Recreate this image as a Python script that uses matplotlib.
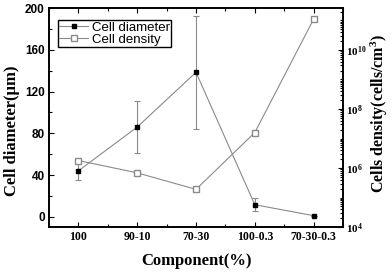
import numpy as np
import matplotlib.pyplot as plt
from matplotlib.ticker import MultipleLocator, LogLocator, NullFormatter

plt.rcParams["font.family"] = ["Liberation Serif", "DejaVu Serif"]
plt.rcParams["font.weight"] = "bold"
plt.rcParams["mathtext.fontset"] = "custom"
plt.rcParams["mathtext.rm"] = "Liberation Serif:bold"
plt.rcParams["mathtext.default"] = "rm"

labels = ['100', '90-10', '70-30', '100-0.3', '70-30-0.3']
diameter = [44, 86, 138.5, 11.5, 1]
diameter_err = [9, 25, 54, 6, 0]
density = [1.8e6, 6.9e5, 1.9e5, 1.6e7, 1.1e11]

x = np.arange(len(labels))
line_col = '#8a8a8a'

fig, ax = plt.subplots(figsize=(3.92, 2.73), dpi=100)
fig.subplots_adjust(left=0.125, right=0.875, top=0.97, bottom=0.168)
ax2 = ax.twinx()

l1, = ax.plot(x, diameter, color=line_col, lw=0.8, marker='s', ms=3.5,
              mfc='black', mec='black', label='Cell diameter', zorder=3)
ax.errorbar(x, diameter, yerr=diameter_err, fmt='none', ecolor=line_col,
            elinewidth=0.8, capsize=2.5, capthick=0.8)
l2, = ax2.plot(x, density, color=line_col, lw=0.8, marker='s', ms=3.8,
               mfc='white', mec=line_col, label='Cell density')

ax.set_xlim(-0.5, 4.5)
ax.set_ylim(-10, 200)
ax.set_xticks(x)
ax.set_xticklabels(labels)
ax.xaxis.set_minor_locator(MultipleLocator(0.5))
ax.yaxis.set_major_locator(MultipleLocator(40))
ax.yaxis.set_minor_locator(MultipleLocator(20))
ax.tick_params(which='both', direction='in', top=True, labelsize=8.5, width=0.8, pad=3)
ax.tick_params(which='major', length=3.5)
ax.tick_params(which='minor', length=2)
for t in ax.get_yticklabels():
    t.set_family('Liberation Sans')

ax2.set_yscale('log')
ax2.set_ylim(1e4, 2.6e11)
ax2.yaxis.set_major_locator(LogLocator(base=100))
ax2.yaxis.set_minor_locator(LogLocator(base=10, subs=np.arange(1, 10), numticks=30))
ax2.yaxis.set_minor_formatter(NullFormatter())
ax2.tick_params(which='both', direction='in', labelsize=8, width=0.8, pad=2)
ax2.tick_params(which='major', length=3.5)
ax2.tick_params(which='minor', length=2)

for a in (ax, ax2):
    for s in a.spines.values():
        s.set_linewidth(1.2)

ax.set_xlabel('Component(%)', fontsize=12, fontweight='bold', labelpad=7)
ax.set_ylabel('Cell diameter(\u03bcm)', fontsize=12, fontweight='bold', labelpad=4)
ax.yaxis.label.set_y(0.44)
ax2.set_ylabel('Cells density(cells/cm$^3$)', fontsize=11.5, fontweight='bold', labelpad=2)
ax2.yaxis.label.set_y(0.52)

ax.legend(handles=[l1, l2], loc='upper left', bbox_to_anchor=(0.03, 0.945),
          prop={'family': 'Liberation Sans', 'size': 9.5, 'weight': 'normal'},
          frameon=True, fancybox=False, edgecolor='black', framealpha=1,
          handlelength=2.2, handletextpad=0.3, borderpad=0.1, labelspacing=0.0,
          borderaxespad=0)

plt.savefig('out.png', dpi=100)
